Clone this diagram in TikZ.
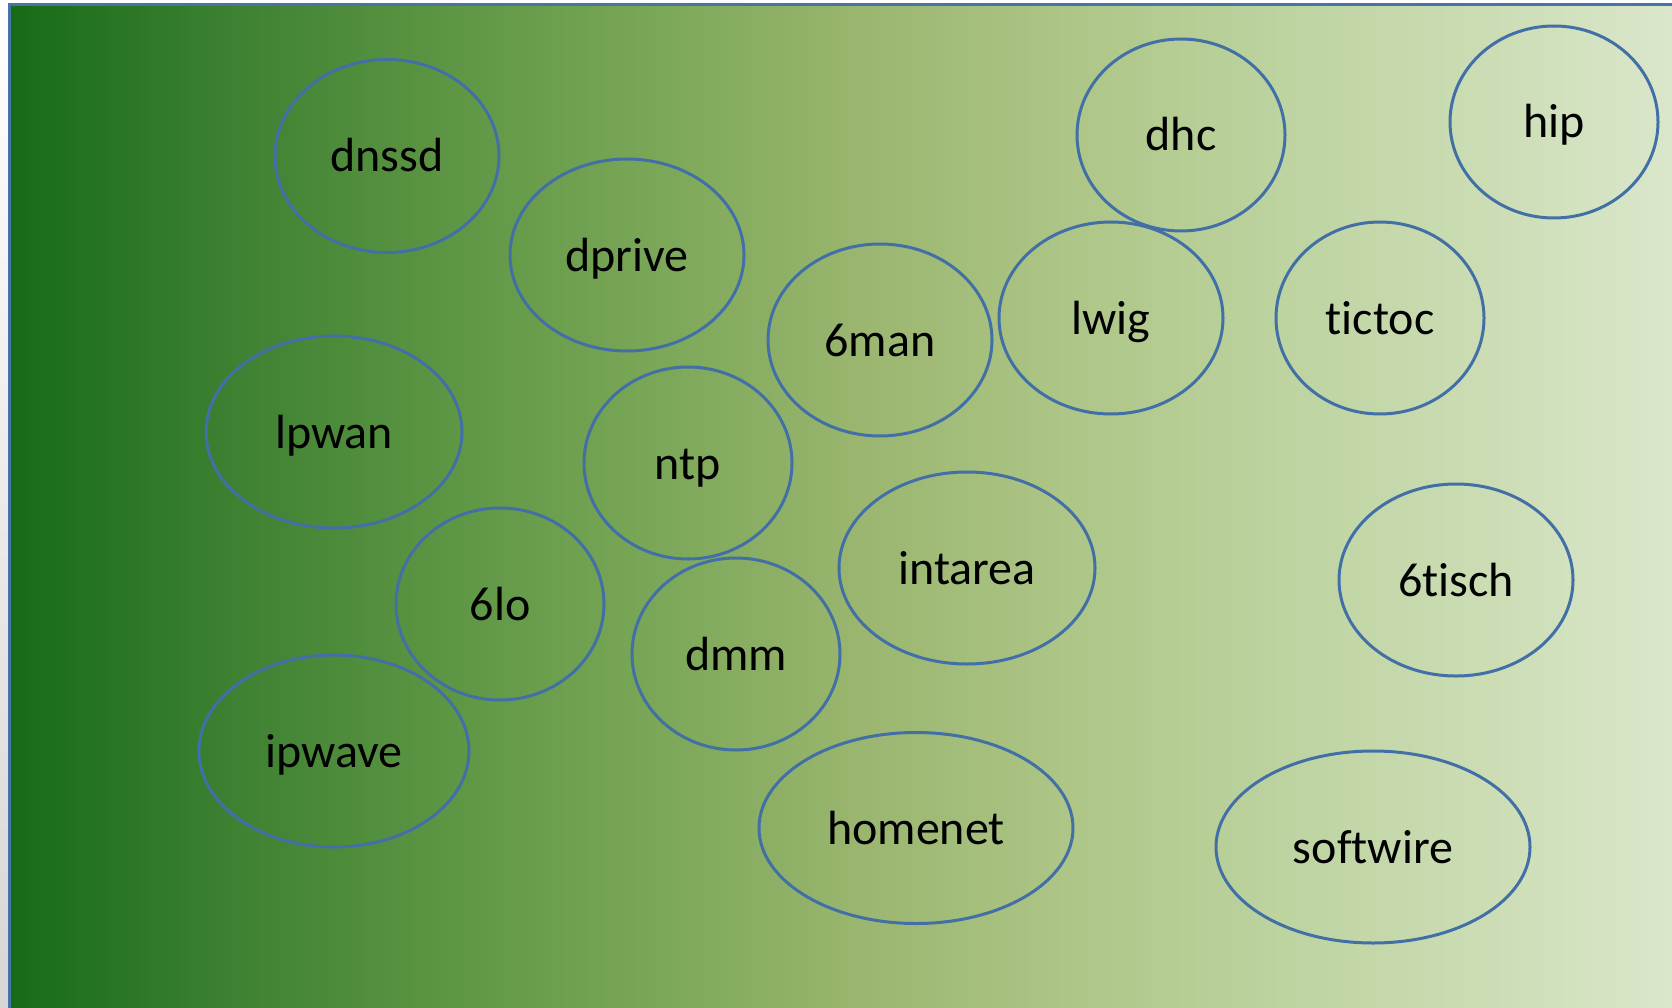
\documentclass[tikz,border=0pt]{standalone}
\usepackage{fontspec}
\setmainfont{Carlito}[RawFeature={-liga}]
\usetikzlibrary{shapes.geometric}
\definecolor{edge}{RGB}{66,112,166}
\definecolor{frame}{RGB}{70,116,166}
\definecolor{ga}{RGB}{24,108,24}
\definecolor{gb}{RGB}{58,127,48}
\definecolor{gc}{RGB}{90,148,66}
\definecolor{gd}{RGB}{120,166,86}
\definecolor{ge}{RGB}{153,181,110}
\definecolor{gf}{RGB}{173,197,134}
\definecolor{gg}{RGB}{189,211,160}
\definecolor{gh}{RGB}{204,221,181}
\definecolor{gi}{RGB}{218,231,203}
\pgfdeclarehorizontalshading{bggrad}{100bp}{color(0bp)=(ga); color(25.3bp)=(ga); color(31.1bp)=(gb); color(37.5bp)=(gc); color(43.9bp)=(gd); color(50.2bp)=(ge); color(56.6bp)=(gf); color(63bp)=(gg); color(69.4bp)=(gh); color(74.8bp)=(gi); color(100bp)=(gi)}
\begin{document}
\begin{tikzpicture}[x=1pt,y=-1pt,
  grp/.style={ellipse, draw=edge, line width=3pt, inner sep=0pt,
    font=\fontsize{48}{57}\selectfont, text=black, text height=36pt, text depth=4pt}]
\useasboundingbox (0,0) rectangle (1672,1008);
\fill[white] (0,0) rectangle (1672,1008);
\shade[top color=white, bottom color=black!16] (0,0) rectangle (9,1008);
\shade[shading=bggrad] (9.5,4.5) rectangle (1680,1015);
\draw[frame, line width=2.5pt] (1680,4.5) -- (9.5,4.5) -- (9.5,1015);

\node[grp, minimum width=224pt, minimum height=193pt] (dnssd) at (387,156) {dnssd};
\node[grp, minimum width=234pt, minimum height=192pt] (dprive) at (627,255) {dprive};
\node[grp, minimum width=208pt, minimum height=192pt] (dhc) at (1181,135) {dhc};
\node[grp, minimum width=208pt, minimum height=192pt] (hip) at (1554,122) {hip};
\node[grp, minimum width=224pt, minimum height=192pt] (nsixman) at (880,340) {6man};
\node[grp, minimum width=224pt, minimum height=192pt] (lwig) at (1111,318) {lwig};
\node[grp, minimum width=208pt, minimum height=192pt] (tictoc) at (1380,318) {tictoc};
\node[grp, minimum width=256pt, minimum height=192pt] (lpwan) at (334,432) {lpwan};
\node[grp, minimum width=208pt, minimum height=192pt] (ntp) at (688,463) {ntp};
\node[grp, minimum width=256pt, minimum height=192pt] (intarea) at (967,568) {intarea};
\node[grp, minimum width=234pt, minimum height=192pt] (sixtisch) at (1456,580) {6tisch};
\node[grp, minimum width=208pt, minimum height=192pt] (sixlo) at (500,604) {6lo};
\node[grp, minimum width=208pt, minimum height=192pt] (dmm) at (736,654) {dmm};
\node[grp, minimum width=270pt, minimum height=192pt] (ipwave) at (334,751) {ipwave};
\node[grp, minimum width=314pt, minimum height=191pt] (homenet) at (916,828) {homenet};
\node[grp, minimum width=314pt, minimum height=192pt] (softwire) at (1373,847) {softwire};
\end{tikzpicture}
\end{document}
